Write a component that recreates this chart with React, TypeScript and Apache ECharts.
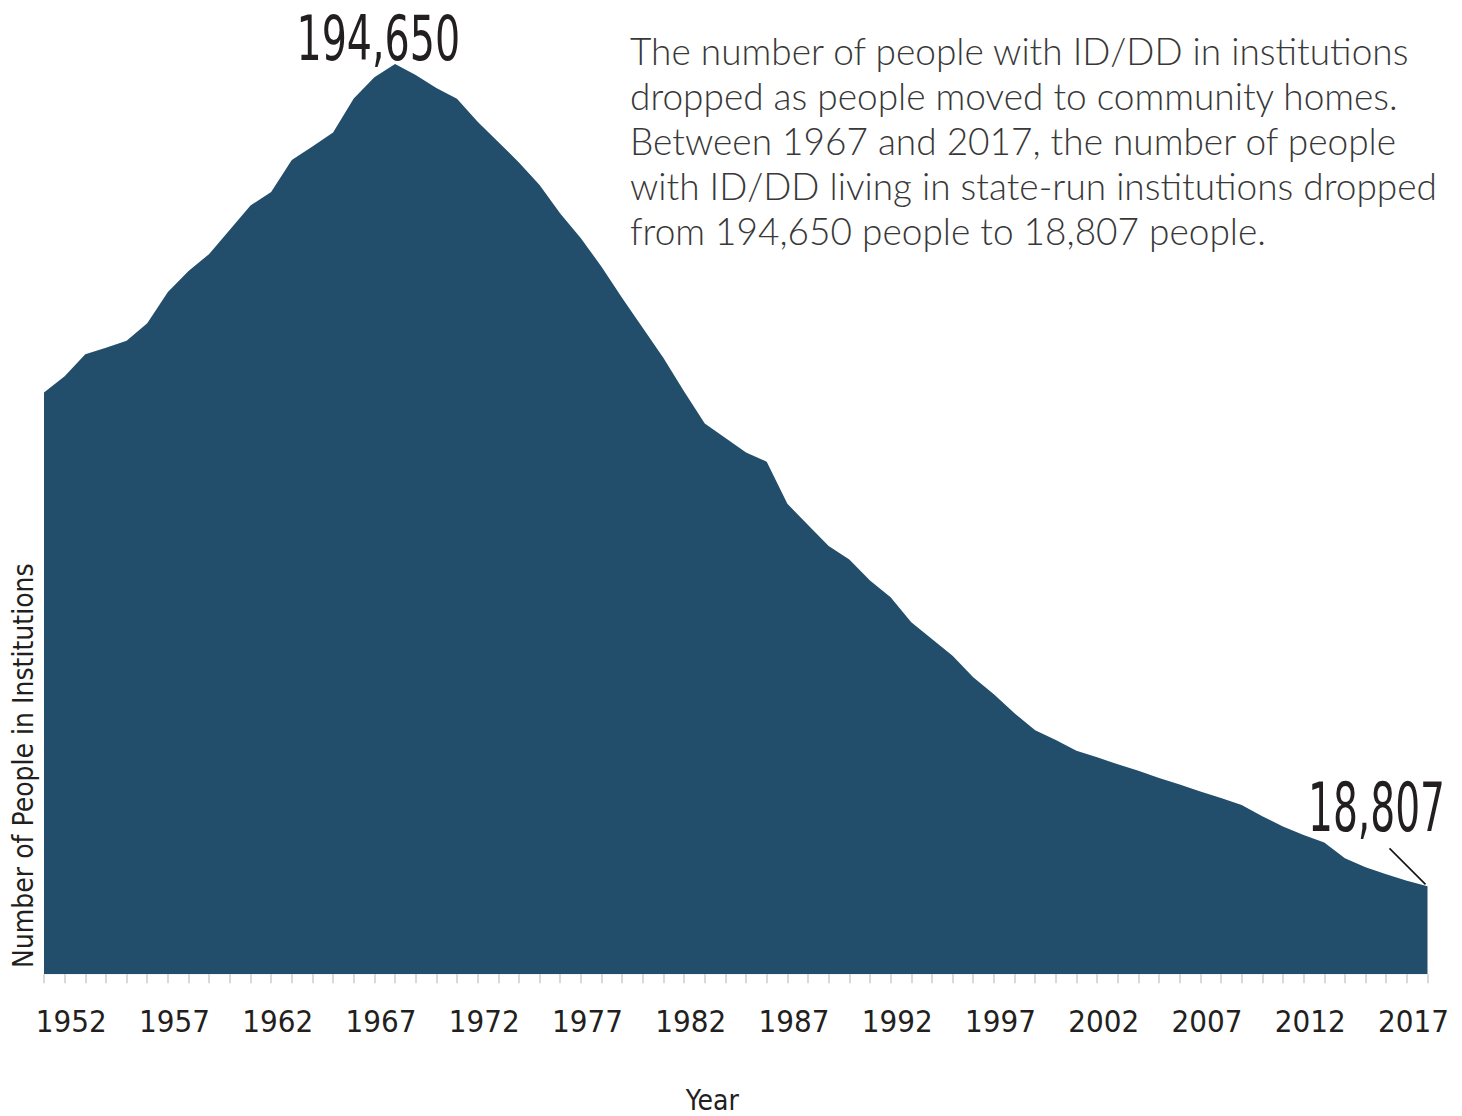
import React, { useEffect, useRef } from "react";
import * as echarts from "echarts";

const years = [
  "1950", "1951", "1952", "1953", "1954", "1955", "1956", "1957", "1958", "1959",
  "1960", "1961", "1962", "1963", "1964", "1965", "1966", "1967", "1968", "1969",
  "1970", "1971", "1972", "1973", "1974", "1975", "1976", "1977", "1978", "1979",
  "1980", "1981", "1982", "1983", "1984", "1985", "1986", "1987", "1988", "1989",
  "1990", "1991", "1992", "1993", "1994", "1995", "1996", "1997", "1998", "1999",
  "2000", "2001", "2002", "2003", "2004", "2005", "2006", "2007", "2008", "2009",
  "2010", "2011", "2012", "2013", "2014", "2015", "2016", "2017",
];

const peopleInInstitutions = [
  124400, 127900, 132600, 134000, 135500, 139200, 145900, 150400, 154000, 159200,
  164400, 167300, 174100, 177000, 180000, 187300, 191800, 194650, 192300, 189500,
  187200, 182300, 178000, 173600, 168800, 162700, 157400, 151300, 144600, 138200,
  131800, 124600, 117800, 114700, 111600, 109600, 100600, 96100, 91600, 88700,
  84200, 80600, 75300, 71700, 68100, 63500, 59900, 55800, 52200, 50100,
  47800, 46400, 44900, 43500, 42000, 40600, 39100, 37700, 36200, 33800,
  31600, 29800, 28200, 24800, 22900, 21400, 20000, 18807,
];

const firstLabelYear = 1952;
const labelStep = 5;
const peakYear = "1967";
const endYear = "2017";

const xAxisTitle = "Year";
const yAxisTitle = "Number of People in Institutions";
const annotationLines = [
  "The number of people with ID/DD in institutions",
  "dropped as people moved to community homes.",
  "Between 1967 and 2017, the number of people",
  "with ID/DD living in state-run institutions dropped",
  "from 194,650 people to 18,807 people.",
];

const NARROW = "'Liberation Sans Narrow', 'DejaVu Sans Condensed', 'Roboto Condensed', 'Arial Narrow', sans-serif";
const INK = "#231f20";
const AREA = "#224e6b";

export default function App() {
  const ref = useRef<HTMLDivElement>(null);

  useEffect(() => {
    if (!ref.current) return;
    const chart = echarts.init(ref.current, null, { renderer: "svg" });
    const peakIdx = years.indexOf(peakYear);
    const endIdx = years.indexOf(endYear);
    const fmt = (v: number) => v.toLocaleString("en-US");

    chart.setOption({
      animation: false,
      grid: {
        left: 44,
        right: 34.5,
        top: 39,
        height: 935.3,
        containLabel: false,
        outerBoundsMode: "none",
      },
      xAxis: {
        type: "category",
        data: years,
        boundaryGap: false,
        name: xAxisTitle,
        nameLocation: "middle",
        nameGap: 112,
        nameTextStyle: {
          fontSize: 28,
          fontFamily: NARROW,
          color: INK,
          padding: [0, 47, 0, 0],
        },
        axisLine: { show: false },
        axisTick: {
          show: true,
          interval: 0,
          length: 9,
          lineStyle: { color: "#d9d9d9", width: 2 },
        },
        axisLabel: {
          interval: (_i: number, value: string) =>
            Number(value) >= firstLabelYear && (Number(value) - firstLabelYear) % labelStep === 0,
          margin: 31,
          fontSize: 31,
          fontFamily: NARROW,
          color: INK,
          padding: [0, 28, 0, 0],
        },
        splitLine: { show: false },
      },
      yAxis: {
        type: "value",
        min: 0,
        max: 200000,
        show: false,
      },
      series: [
        {
          type: "line",
          data: peopleInInstitutions,
          symbol: "none",
          lineStyle: { width: 0 },
          areaStyle: { color: AREA, opacity: 1 },
          itemStyle: { color: AREA },
          silent: true,
        },
      ],
    });

    const peak = chart.convertToPixel({ gridIndex: 0 }, [peakIdx, peopleInInstitutions[peakIdx]]) as number[];
    const end = chart.convertToPixel({ gridIndex: 0 }, [endIdx, peopleInInstitutions[endIdx]]) as number[];

    chart.setOption({
      graphic: [
        {
          type: "text",
          x: peak[0] - 16.7,
          y: peak[1] - 25.5,
          scaleX: 0.71,
          style: {
            text: fmt(peopleInInstitutions[peakIdx]),
            fontSize: 62,
            fontFamily: NARROW,
            fill: INK,
            align: "center",
            verticalAlign: "middle",
          },
        },
        {
          type: "text",
          x: end[0] - 51,
          y: end[1] - 78.8,
          scaleX: 0.64,
          style: {
            text: fmt(peopleInInstitutions[endIdx]),
            fontSize: 68,
            fontFamily: NARROW,
            fill: INK,
            align: "center",
            verticalAlign: "middle",
          },
        },
        {
          type: "line",
          shape: { x1: end[0] - 38, y1: end[1] - 38, x2: end[0] - 2, y2: end[1] - 2 },
          style: { stroke: "#111", lineWidth: 1.6 },
        },
        {
          type: "text",
          x: 23,
          y: 968,
          rotation: Math.PI / 2,
          style: {
            text: yAxisTitle,
            fontSize: 28,
            fontFamily: NARROW,
            fill: INK,
            align: "left",
            verticalAlign: "middle",
          },
        },
        {
          type: "text",
          x: 630,
          y: 27.5,
          style: {
            text: annotationLines.join("\n"),
            fontSize: 37,
            lineHeight: 45,
            fontFamily: "Lato, 'Open Sans', sans-serif",
            fontWeight: 300,
            fill: "#383838",
            align: "left",
            verticalAlign: "top",
          },
        },
      ],
    });

    return () => chart.dispose();
  }, []);

  return (
    <div
      ref={ref}
      style={{ position: "absolute", left: 0, top: 0, width: 1462, height: 1116 }}
    />
  );
}
